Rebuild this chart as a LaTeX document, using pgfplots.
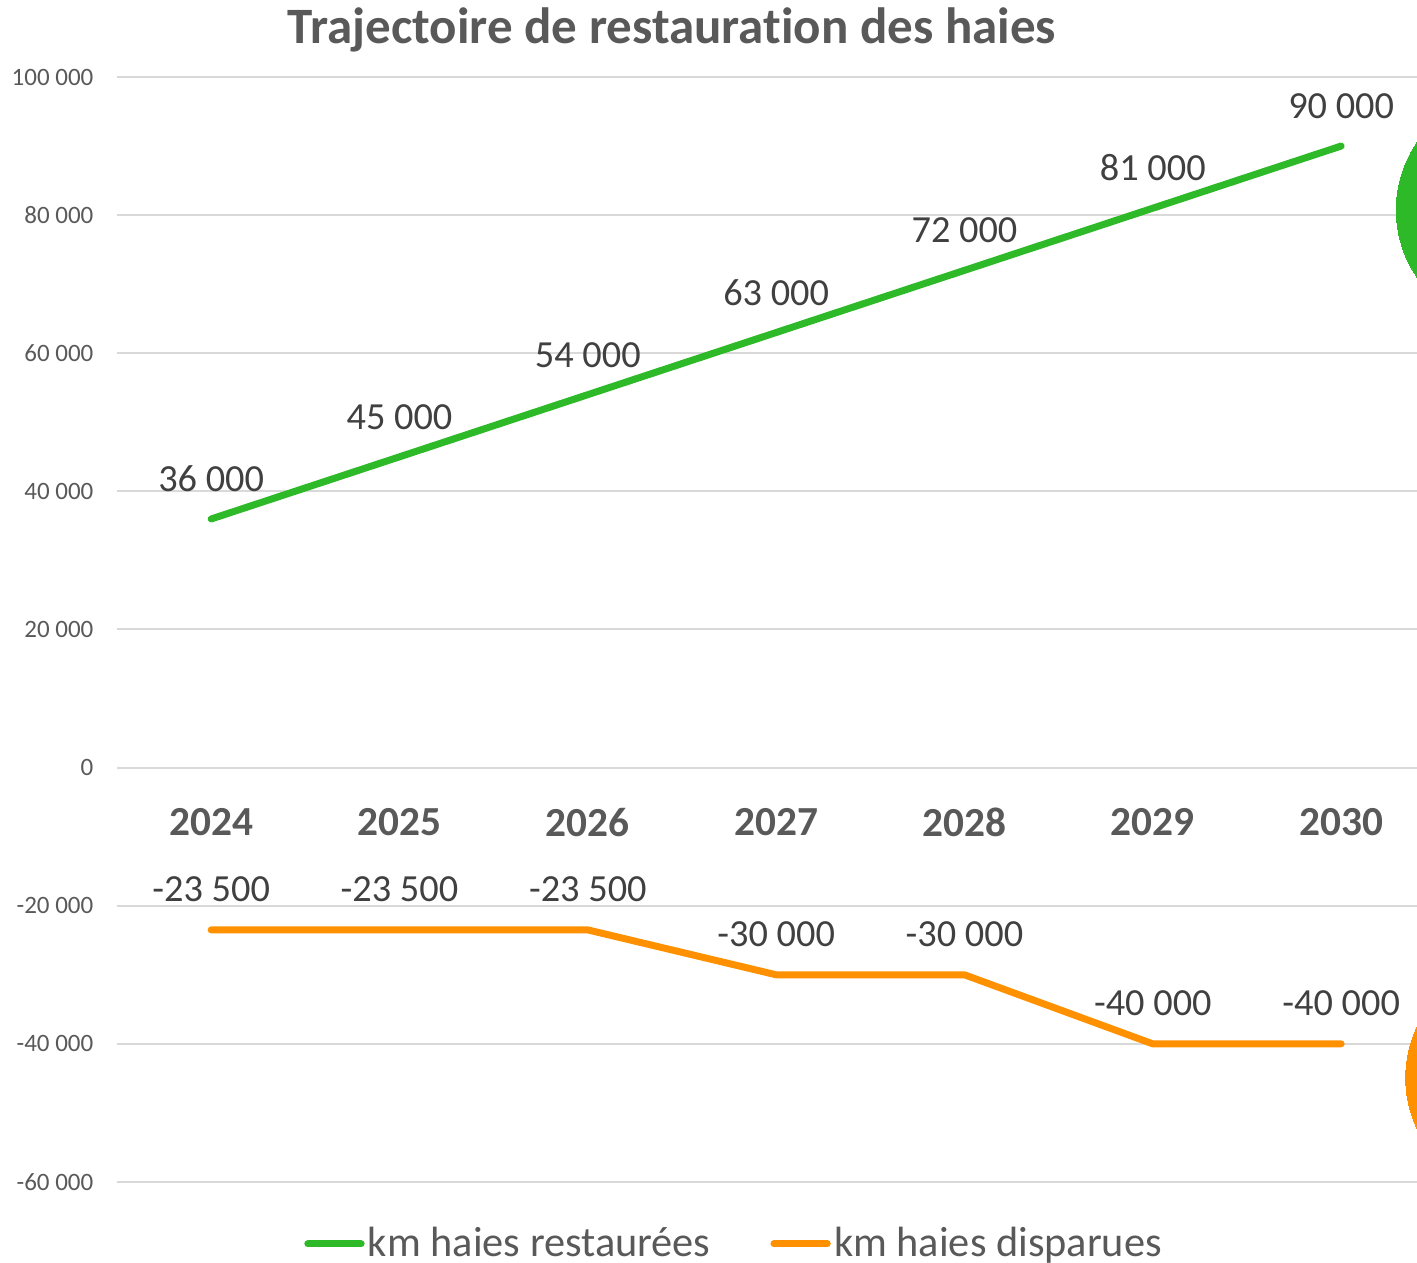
\documentclass[border=0pt]{standalone}
\usepackage{fontspec}
\setmainfont{Carlito}[Ligatures=NoCommon]
\usepackage{pgfplots}
\pgfplotsset{compat=1.18}
\definecolor{cgreen}{HTML}{2DB928}
\definecolor{corange}{HTML}{FF9100}
\definecolor{txt}{HTML}{595959}
\definecolor{lbl}{HTML}{404040}
\definecolor{gridc}{HTML}{D9D9D9}
\begin{document}
\begin{tikzpicture}
\begin{axis}[
  scale only axis, width=452pt, height=331.5pt,
  xmin=-0.5, xmax=7.5, ymin=-60000, ymax=100000,
  axis x line*=middle, axis y line*=left,
  x axis line style={draw=none}, y axis line style={draw=none},
  hide obscured x ticks=false, hide obscured y ticks=false,
  scaled y ticks=false,
  xtick={0,1,2,3,4,5,6}, xticklabels={2024,2025,2026,2027,2028,2029,2030},
  ytick={-60000,-40000,-20000,0,20000,40000,60000,80000,100000},
  yticklabels={-60 000,-40 000,-20 000,0,20 000,40 000,60 000,80 000,100 000},
  major tick length=0pt, tick style={draw=none},
  ymajorgrids, grid style={gridc, line width=0.6pt},
  xticklabel style={font=\fontsize{12.4}{14}\selectfont\bfseries, text=txt, anchor=north, inner sep=0pt, yshift=-12pt},
  yticklabel style={font=\fontsize{7.5}{9}\selectfont, text=txt, anchor=east, inner sep=0pt, xshift=-6.9pt},
  title={Trajectoire de restauration des haies},
  every axis title/.style={at={(0.3684,1)}, anchor=center, yshift=14.1pt, font=\fontsize{15.3}{18}\selectfont\bfseries, text=txt},
  legend style={at={(0.410,0)}, anchor=center, yshift=-18.6pt, draw=none, fill=none, legend columns=2,
    font=\fontsize{12.7}{15}\selectfont, text=txt, nodes={inner sep=1pt},
    /tikz/every even column/.append style={column sep=17pt}},
  legend image code/.code={\draw[#1, line width=2.1pt, line cap=round] (0pt,0pt) -- (16pt,0pt);},
]
\addplot[cgreen, only marks, mark=*, mark size=36pt, mark options={draw=cgreen, fill=cgreen, line width=0pt}, forget plot] coordinates {(6.93,80780)};
\addplot[corange, only marks, mark=*, mark size=36pt, mark options={draw=corange, fill=corange, line width=0pt}, forget plot] coordinates {(6.98,-44880)};
\addplot[cgreen, line width=2.1pt, line cap=round, line join=round, mark=none,
  nodes near coords, point meta=explicit symbolic,
  every node near coord/.append style={font=\fontsize{11.5}{13}\selectfont, text=lbl, anchor=south, inner sep=0pt, yshift=7.1pt}]
  coordinates {(0,36000) [36 000] (1,45000) [45 000] (2,54000) [54 000] (3,63000) [63 000] (4,72000) [72 000] (5,81000) [81 000] (6,90000) [90 000]};
\addlegendentry{km haies restaurées}
\addplot[corange, line width=2.1pt, line cap=round, line join=round, mark=none,
  nodes near coords, point meta=explicit symbolic,
  every node near coord/.append style={font=\fontsize{11.5}{13}\selectfont, text=lbl, anchor=south, inner sep=0pt, yshift=7.3pt}]
  coordinates {(0,-23500) [-23 500] (1,-23500) [-23 500] (2,-23500) [-23 500] (3,-30000) [-30 000] (4,-30000) [-30 000] (5,-40000) [-40 000] (6,-40000) [-40 000]};
\addlegendentry{km haies disparues}
\end{axis}
\pgfresetboundingbox
\path[use as bounding box] ([xshift=-35.1pt, yshift=-24.3pt]current axis.south west) rectangle ([xshift=390pt, yshift=23.1pt]current axis.north west);
\end{tikzpicture}
\end{document}
